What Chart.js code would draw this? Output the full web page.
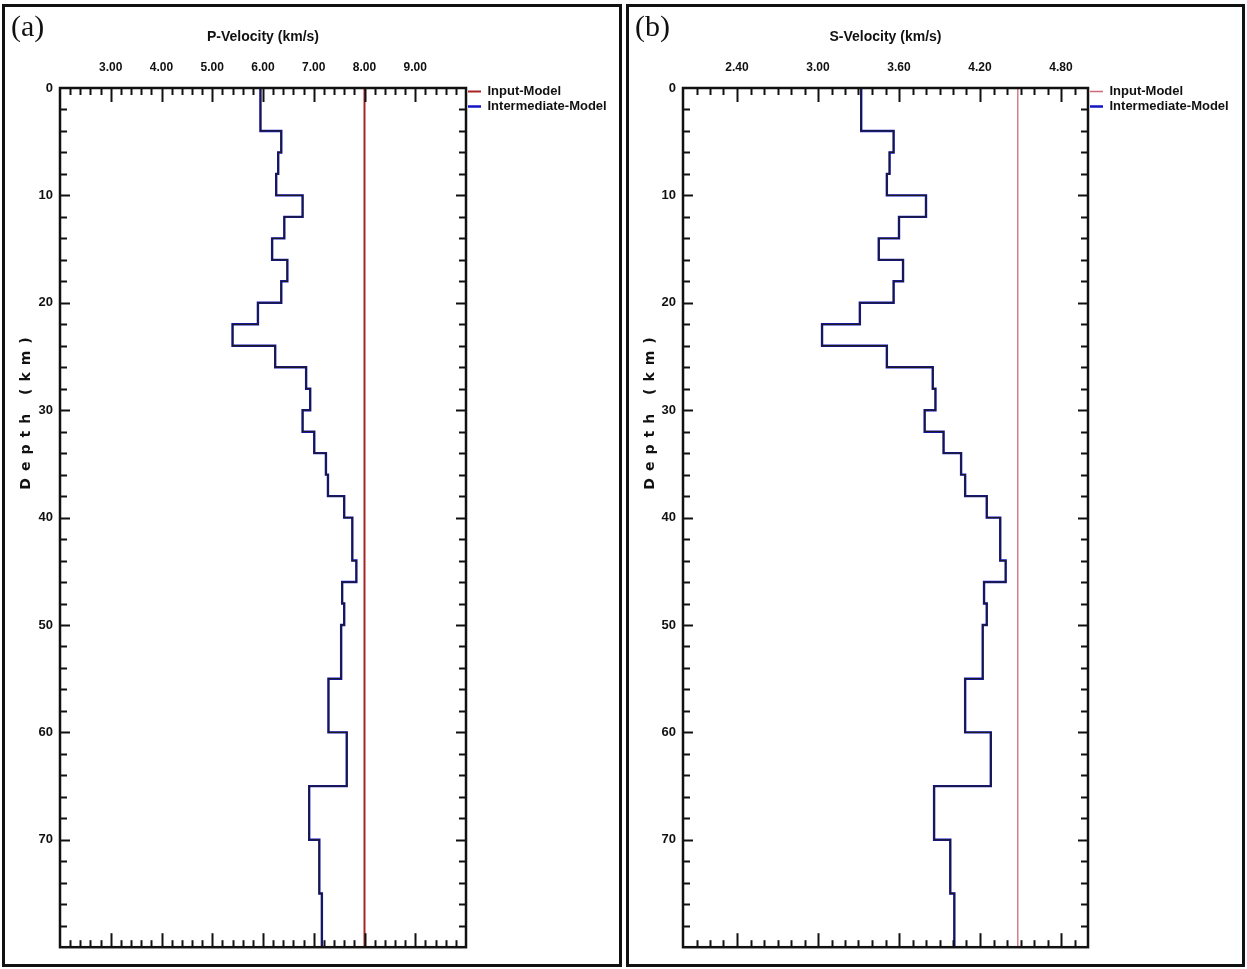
<!DOCTYPE html>
<html>
<head>
<meta charset="utf-8">
<title>P and S velocity models</title>
<script src="https://cdn.jsdelivr.net/npm/chart.js@4.4.1/dist/chart.umd.min.js"></script>
<style>
  body { margin: 0; background: #fff; }
  #page { position: relative; width: 1247px; height: 969px; overflow: hidden; background: #fff; }
  .frame { position: absolute; border: 3px solid #111; box-sizing: border-box; pointer-events: none; }
  canvas { position: absolute; }
  .tag { position: absolute; font-family: "Liberation Serif", serif; font-size: 30px; line-height: 1; color: #111; }
  .ylab {
    position: absolute; white-space: nowrap; color: #111;
    font-family: "DejaVu Sans", sans-serif; font-weight: bold; font-size: 14px; letter-spacing: 7px;
    transform: translate(-50%, -50%) rotate(-90deg);
  }
</style>
</head>
<body>
<div id="page">
  <canvas id="chartP" width="612" height="954" style="left:6px;top:8px"></canvas>
  <canvas id="chartS" width="612" height="954" style="left:630px;top:8px"></canvas>
  <div class="frame" style="left:2px;top:4px;width:620px;height:963px"></div>
  <div class="frame" style="left:626px;top:4px;width:619px;height:963px"></div>
  <div class="tag" style="left:11px;top:11px">(a)</div>
  <div class="tag" style="left:635px;top:11px">(b)</div>
  <div class="ylab" style="left:25px;top:410px">Depth (km)</div>
  <div class="ylab" style="left:649px;top:410px">Depth (km)</div>
</div>
<script>
// layer boundaries (km) and the velocity of each layer between them
const layerTops = [0, 4, 6, 8, 10, 12, 14, 16, 18, 20, 22, 24, 26, 28, 30, 32, 34, 36, 38, 40, 44, 46, 48, 50, 55, 60, 65, 70, 75, 80];
const pVelocity = [5.95, 6.36, 6.30, 6.26, 6.78, 6.42, 6.18, 6.48, 6.36, 5.90, 5.40, 6.24, 6.85, 6.93, 6.78, 7.01, 7.24, 7.28, 7.60, 7.76, 7.84, 7.56, 7.60, 7.54, 7.29, 7.65, 6.91, 7.11, 7.16];
const sVelocity = [3.32, 3.56, 3.53, 3.51, 3.80, 3.60, 3.45, 3.63, 3.56, 3.31, 3.03, 3.51, 3.85, 3.87, 3.79, 3.93, 4.06, 4.09, 4.25, 4.35, 4.39, 4.23, 4.25, 4.22, 4.09, 4.28, 3.86, 3.98, 4.01];

const inputDepths = [0, 80];
const inputP = [8.0, 8.0];
const inputS = [4.48, 4.48];

const depthTicks = [0, 10, 20, 30, 40, 50, 60, 70];
const pTicks = [3, 4, 5, 6, 7, 8, 9];
const sTicks = [2.4, 3.0, 3.6, 4.2, 4.8];

const SANS = '"Liberation Sans", Arial, sans-serif';
const LEGEND_FONT = { family: SANS, size: 13, weight: "bold" };
const LEGEND_PAD = 2;
const LEGEND_LINE = 13;
const LEGEND_LIFT = 5;

function stepPoints(tops, vals) {
  const pts = [];
  vals.forEach((v, i) => {
    pts.push({ x: v, y: tops[i] }, { x: v, y: tops[i + 1] });
  });
  return pts;
}

function linePoints(depths, vals) {
  return depths.map((d, i) => ({ x: vals[i], y: d }));
}

function textWidth(font, labels) {
  const ctx = document.createElement("canvas").getContext("2d");
  ctx.font = `${font.weight} ${font.size}px ${font.family}`;
  return Math.max(...labels.map((t) => ctx.measureText(t).width));
}

// frame around the plot plus inward ticks on all four sides
const frameTicks = {
  id: "frameTicks",
  afterLayout(chart) {
    // legend sits a little above the top of the plot in the original
    if (chart.legend) {
      chart.legend.top -= LEGEND_LIFT;
      chart.legend.bottom -= LEGEND_LIFT;
    }
  },
  afterDatasetsDraw(chart, args, opts) {
    const { ctx, chartArea: a, scales } = chart;
    const x = scales.x, y = scales.y;
    const seg = (x0, y0, x1, y1) => { ctx.beginPath(); ctx.moveTo(x0, y0); ctx.lineTo(x1, y1); ctx.stroke(); };
    const isMajor = (list, v) => list.some((m) => Math.abs(m - v) < 1e-6);
    ctx.save();
    ctx.strokeStyle = "#111";
    ctx.lineWidth = 2;

    const nx = Math.round((x.max - x.min) / opts.xMinor);
    for (let i = 1; i < nx; i++) {
      const v = x.min + i * opts.xMinor;
      const len = isMajor(opts.xMajor, v) ? 14 : 7;
      const px = Math.round(x.getPixelForValue(v)) + 0.5;
      seg(px, a.top, px, a.top + len);
      seg(px, a.bottom, px, a.bottom - len);
    }
    const ny = Math.round((y.max - y.min) / opts.yMinor);
    for (let i = 1; i < ny; i++) {
      const v = y.min + i * opts.yMinor;
      const len = v % 10 === 0 ? 10 : 7;
      const py = Math.round(y.getPixelForValue(v)) + 0.5;
      seg(a.left, py, a.left + len, py);
      seg(a.right, py, a.right - len, py);
    }
    ctx.lineWidth = 2.5;
    ctx.strokeRect(a.left, a.top, a.right - a.left, a.bottom - a.top);
    ctx.restore();
  },
};

function velocityPanel(canvas, cfg) {
  const legendW = LEGEND_PAD + LEGEND_LINE + LEGEND_FONT.size / 2 +
    textWidth(LEGEND_FONT, ["Input-Model", "Intermediate-Model"]) + 10;
  const rightPad = Math.max(0, canvas.width - cfg.area.right - legendW);
  const modelPts = stepPoints(layerTops, cfg.model);

  return new Chart(canvas, {
    type: "scatter",
    data: {
      datasets: [
        {
          label: "Input-Model",
          data: linePoints(inputDepths, cfg.input),
          borderColor: cfg.inputColor,
          backgroundColor: cfg.inputColor,
          borderWidth: cfg.inputWidth,
          showLine: true,
          pointRadius: 0,
          order: 0,
        },
        {
          label: "",
          data: modelPts,
          borderColor: "#1c1c1c",
          borderWidth: 1.3,
          showLine: true,
          pointRadius: 0,
          order: 1,
        },
        {
          label: "Intermediate-Model",
          data: modelPts,
          borderColor: "#1414c4",
          backgroundColor: "#1414c4",
          borderWidth: 2.4,
          showLine: true,
          pointRadius: 0,
          order: 2,
        },
      ],
    },
    options: {
      responsive: false,
      animation: false,
      events: [],
      layout: { padding: { left: 0, top: 0, right: rightPad, bottom: canvas.height - cfg.area.bottom } },
      plugins: {
        tooltip: { enabled: false },
        legend: {
          position: "right",
          align: "start",
          fullSize: false,
          labels: {
            usePointStyle: true,
            pointStyle: "line",
            pointStyleWidth: LEGEND_LINE,
            padding: LEGEND_PAD,
            color: "#111",
            font: LEGEND_FONT,
            filter: (item) => item.text !== "",
          },
        },
        frameTicks: { xMajor: cfg.xTicks, xMinor: cfg.xMinor, yMinor: 2 },
      },
      scales: {
        x: {
          type: "linear",
          position: "top",
          min: cfg.xMin,
          max: cfg.xMax,
          grid: { display: false, drawTicks: false },
          border: { display: false },
          afterBuildTicks: (scale) => { scale.ticks = cfg.xTicks.map((v) => ({ value: v })); },
          afterFit: (scale) => { scale.height = cfg.area.top; },
          ticks: {
            padding: 13,
            color: "#111",
            font: { family: SANS, size: 12, weight: "bold" },
            callback: (v) => Number(v).toFixed(2),
          },
          title: {
            display: true,
            text: cfg.title,
            color: "#111",
            font: { family: SANS, size: 14, weight: "bold" },
            padding: { top: 21, bottom: 0 },
          },
        },
        y: {
          type: "linear",
          reverse: true,
          min: 0,
          max: 80,
          grid: { display: false, drawTicks: false },
          border: { display: false },
          afterBuildTicks: (scale) => { scale.ticks = depthTicks.map((v) => ({ value: v })); },
          afterFit: (scale) => { scale.width = cfg.area.left; },
          ticks: {
            padding: 7,
            color: "#111",
            font: { family: SANS, size: 13, weight: "bold" },
            callback: (v) => String(v),
          },
        },
      },
    },
    plugins: [frameTicks],
  });
}

velocityPanel(document.getElementById("chartP"), {
  title: "P-Velocity (km/s)",
  model: pVelocity,
  input: inputP,
  inputColor: "#a82424",
  inputWidth: 2,
  xMin: 2, xMax: 10, xTicks: pTicks, xMinor: 0.2,
  area: { left: 54, top: 80, right: 460, bottom: 940 },
});

velocityPanel(document.getElementById("chartS"), {
  title: "S-Velocity (km/s)",
  model: sVelocity,
  input: inputS,
  inputColor: "#cf6a78",
  inputWidth: 1.3,
  xMin: 2, xMax: 5, xTicks: sTicks, xMinor: 0.1,
  area: { left: 53, top: 80, right: 458, bottom: 940 },
});
</script>
</body>
</html>
